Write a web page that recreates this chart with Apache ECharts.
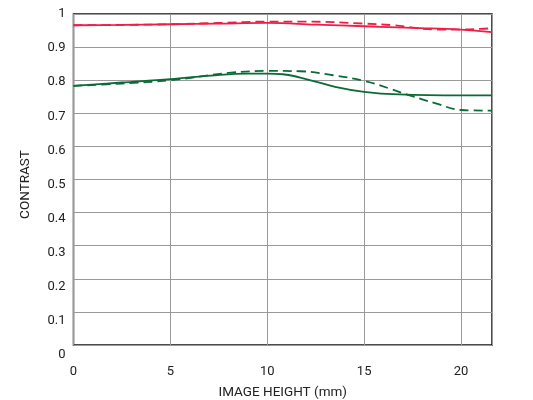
<!DOCTYPE html>
<html>
<head>
<meta charset="utf-8">
<script src="https://cdn.jsdelivr.net/npm/echarts@6/dist/echarts.min.js"></script>
<style>html,body{margin:0;padding:0;background:#fff}#c{width:533px;height:400px}</style>
</head>
<body>
<div id="c"></div>
<script>
const xTicks = [0, 5, 10, 15, 20];
const yTicks = [0, 0.1, 0.2, 0.3, 0.4, 0.5, 0.6, 0.7, 0.8, 0.9, 1];
const redSolid = [[0,0.966],[2.5,0.967],[5,0.969],[7.5,0.971],[10,0.973],[12.5,0.968],[15,0.963],[17.5,0.958],[20,0.953],[21.6,0.945]];
const redDashed = [[0,0.966],[2.5,0.967],[5,0.969],[7.5,0.973],[10,0.977],[12,0.977],[15,0.971],[16.5,0.966],[18.8,0.953],[20,0.953],[21,0.955],[21.6,0.957]];
const greenSolid = [[0,0.783],[2.5,0.793],[5,0.803],[7.1,0.814],[9,0.820],[10,0.820],[10.8,0.818],[12.1,0.802],[13.5,0.780],[15,0.765],[16.8,0.757],[20,0.754],[21.6,0.754]];
const greenDashed = [[0,0.783],[2.5,0.790],[5,0.800],[8,0.822],[10,0.828],[11.7,0.827],[13.4,0.815],[15,0.798],[16.3,0.775],[17.3,0.755],[18.7,0.730],[20,0.710],[21.6,0.708]];

const RED = '#ee1e48', GREEN = '#0b6b38';
const chart = echarts.init(document.getElementById('c'), null, {renderer:'canvas'});
const font = 'Roboto, "Noto Sans", sans-serif';
const txt = {color:'#222', fontSize:13, fontFamily:font};
const nameTxt = {color:'#222', fontSize:13.5, fontFamily:font};
function line(data, color, dashed){
  return {type:'line', data, smooth:0.4, symbol:'none', animation:false, xAxisIndex:0, yAxisIndex:0,
    lineStyle:{color, width:1.8, type: dashed ? [9,5] : 'solid'}};
}
chart.setOption({
  animation:false,
  grid:[
    {left:73.5, right:41, top:14, bottom:55, show:true, borderColor:'#111', borderWidth:1.5, outerBoundsMode:'none', containLabel:false},
    {left:73.5, right:41, top:14, bottom:45, show:false, outerBoundsMode:'none', containLabel:false}
  ],
  xAxis:[
    {type:'value', gridIndex:0, min:0, max:21.6, interval:5,
      name:'IMAGE HEIGHT (mm)', nameLocation:'middle', nameGap:41, nameTextStyle:nameTxt,
      axisLine:{show:false}, axisTick:{show:false},
      axisLabel:Object.assign({margin:20, formatter:v => xTicks.includes(v) ? String(v) : ''}, txt),
      splitLine:{show:true, lineStyle:{color:'#999', width:1}}},
    {type:'value', gridIndex:1, min:0, max:21.6, show:false}
  ],
  yAxis:[
    {type:'value', gridIndex:0, min:0, max:1, interval:0.1,
      axisLine:{show:false}, axisTick:{show:false}, axisLabel:{show:false},
      splitLine:{show:true, lineStyle:{color:'#999', width:1}}},
    {type:'value', gridIndex:1, min:0, max:1, interval:0.1,
      name:'CONTRAST', nameLocation:'middle', nameGap:41, nameTextStyle:nameTxt,
      axisLine:{show:false}, axisTick:{show:false}, splitLine:{show:false},
      axisLabel:Object.assign({margin:8,
        formatter:v => { const t = yTicks.find(y => Math.abs(y - v) < 1e-6); return t === undefined ? '' : (t === 0 || t === 1 ? String(t) : t.toFixed(1)); }}, txt)}
  ],
  series:[
    line(redSolid, RED, false),
    line(redDashed, RED, true),
    line(greenSolid, GREEN, false),
    line(greenDashed, GREEN, true)
  ]
});
</script>
</body>
</html>
